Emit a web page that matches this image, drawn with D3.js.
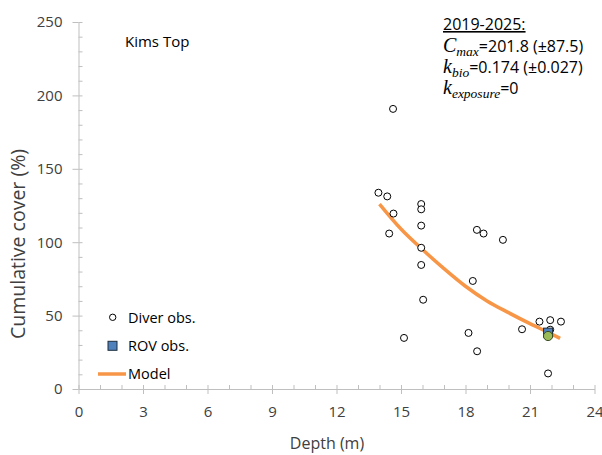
<!DOCTYPE html>
<html>
<head>
<meta charset="utf-8">
<script src="https://cdn.jsdelivr.net/npm/d3@7"></script>
<style>
  body { margin: 0; background: #fff; }
  svg text { font-family: "Open Sans", "Noto Sans", sans-serif; }
</style>
</head>
<body>
<div id="chart"></div>
<script>
// Diver observations (depth m, cumulative cover %)
var diverDepth = [13.95, 14.36, 14.65, 14.45, 14.63, 15.94, 15.94, 15.94, 15.94, 15.94, 16.03, 15.14,
                  18.53, 18.84, 19.74, 18.34, 18.14, 18.54, 20.63, 21.44, 21.94, 22.44, 21.94, 21.84];
var diverCover = [133.7, 131.2, 119.5, 105.9, 190.8, 126.0, 122.4, 111.3, 96.2, 84.5, 60.8, 34.8,
                  108.4, 105.9, 101.6, 73.6, 38.2, 25.7, 40.7, 45.9, 46.9, 45.9, 40.4, 10.6];

// ROV observation
var rovDepth = [21.84];
var rovCover = [38.4];

// extra marker drawn on top of the ROV square
var meanDepth = [21.84];
var meanCover = [36.1];

// model curve
var modelDepth = [14.0, 15.0, 16.0, 17.0, 18.0, 19.0, 20.0, 21.0, 22.0, 22.4];
var modelCover = [126, 109, 95, 82, 70, 60, 52, 44.5, 37.5, 34.5];

var xTicks = [0, 3, 6, 9, 12, 15, 18, 21, 24];
var yTicks = [0, 50, 100, 150, 200, 250];

var width = 602, height = 455;
var plotLeft = 78.5, plotRight = 594.5, plotTop = 22, plotBottom = 389;

var svg = d3.select('#chart').append('svg')
    .attr('width', width)
    .attr('height', height)
    .style('background', 'white');

var x = d3.scaleLinear().domain([0, 24]).range([plotLeft, plotRight]);
var y = d3.scaleLinear().domain([0, 250]).range([plotBottom, plotTop]);

var axisColor = '#bfbfbf';
var labelColor = '#404040';

// minor ticks (inside)
svg.append('g')
    .attr('transform', 'translate(0,' + plotBottom + ')')
    .call(d3.axisBottom(x).tickValues(d3.range(0, 25, 1)).tickSizeInner(-4).tickSizeOuter(0).tickFormat(''))
    .call(function(g) { g.select('.domain').remove(); g.selectAll('line').attr('stroke', axisColor); });
svg.append('g')
    .attr('transform', 'translate(' + plotLeft + ',0)')
    .call(d3.axisLeft(y).tickValues(d3.range(0, 251, 10)).tickSizeInner(-4).tickSizeOuter(0).tickFormat(''))
    .call(function(g) { g.select('.domain').remove(); g.selectAll('line').attr('stroke', axisColor); });

// major axes
var xAxis = svg.append('g')
    .attr('transform', 'translate(0,' + plotBottom + ')')
    .call(d3.axisBottom(x).tickValues(xTicks).tickSizeInner(5).tickSizeOuter(0).tickPadding(12));
var yAxis = svg.append('g')
    .attr('transform', 'translate(' + plotLeft + ',0)')
    .call(d3.axisLeft(y).tickValues(yTicks).tickSizeInner(6).tickSizeOuter(0).tickPadding(10));

[xAxis, yAxis].forEach(function(g) {
    g.select('.domain').attr('stroke', axisColor);
    g.selectAll('line').attr('stroke', axisColor);
    g.selectAll('text')
        .style('font-size', '15px')
        .attr('fill', labelColor);
});

// axis titles
svg.append('text')
    .attr('x', 327)
    .attr('y', 449)
    .attr('text-anchor', 'middle')
    .style('font-size', '16px')
    .attr('fill', labelColor)
    .text('Depth (m)');

svg.append('text')
    .attr('transform', 'translate(25,244) rotate(-90)')
    .attr('text-anchor', 'middle')
    .style('font-size', '19.5px')
    .attr('fill', labelColor)
    .text('Cumulative cover (%)');

// site label
svg.append('text')
    .attr('x', 125)
    .attr('y', 47)
    .style('font-size', '15px')
    .attr('fill', '#000')
    .text('Kims Top');

// model line
var line = d3.line()
    .x(function(d, i) { return x(modelDepth[i]); })
    .y(function(d, i) { return y(modelCover[i]); })
    .curve(d3.curveMonotoneX);

svg.append('path')
    .datum(modelCover)
    .attr('d', line)
    .attr('fill', 'none')
    .attr('stroke', '#f79646')
    .attr('stroke-width', 3.5);

// diver obs
svg.selectAll('circle.diver')
    .data(diverCover)
    .enter()
    .append('circle')
        .attr('class', 'diver')
        .attr('cx', function(d, i) { return x(diverDepth[i]); })
        .attr('cy', function(d) { return y(d); })
        .attr('r', 3.5)
        .attr('fill', 'white')
        .attr('stroke', '#000')
        .attr('stroke-width', 1);

// ROV obs
svg.selectAll('rect.rov')
    .data(rovCover)
    .enter()
    .append('rect')
        .attr('class', 'rov')
        .attr('x', function(d, i) { return x(rovDepth[i]) - 4.5; })
        .attr('y', function(d) { return y(d) - 4.5; })
        .attr('width', 9)
        .attr('height', 9)
        .attr('fill', '#4f81bd')
        .attr('stroke', '#1f2d3d')
        .attr('stroke-width', 1);

svg.selectAll('circle.mean')
    .data(meanCover)
    .enter()
    .append('circle')
        .attr('class', 'mean')
        .attr('cx', function(d, i) { return x(meanDepth[i]); })
        .attr('cy', function(d) { return y(d); })
        .attr('r', 4.6)
        .attr('fill', '#9bbb59')
        .attr('stroke', '#3a4a22')
        .attr('stroke-width', 1);

// legend
var legend = svg.append('g');
legend.append('circle')
    .attr('cx', 112.7).attr('cy', 317.3).attr('r', 3.2)
    .attr('fill', 'white').attr('stroke', '#000');
legend.append('rect')
    .attr('x', 108).attr('y', 341.3).attr('width', 9).attr('height', 9)
    .attr('fill', '#4f81bd').attr('stroke', '#1f2d3d');
legend.append('line')
    .attr('x1', 98).attr('x2', 126).attr('y1', 374).attr('y2', 374)
    .attr('stroke', '#f79646').attr('stroke-width', 3.5);
var legendText = ['Diver obs.', 'ROV obs.', 'Model'];
legend.selectAll('text')
    .data(legendText)
    .enter()
    .append('text')
        .attr('x', 128)
        .attr('y', function(d, i) { return 317.3 + i * 28.3; })
        .attr('dominant-baseline', 'central')
        .style('font-size', '14.5px')
        .attr('fill', '#000')
        .text(function(d) { return d; });

// annotation
var ann = svg.append('g').attr('fill', '#000');
ann.append('text')
    .attr('x', 443).attr('y', 30)
    .style('font-size', '16px')
    .attr('text-decoration', 'underline')
    .text('2019-2025:');

var serif = '"Liberation Serif", "DejaVu Serif", serif';
function paramLine(yPos, sym, sub, rest) {
    var t = ann.append('text').attr('x', 443).attr('y', yPos).style('font-size', '16px');
    t.append('tspan').style('font-family', serif).style('font-style', 'italic').style('font-size', '20px').text(sym);
    t.append('tspan').style('font-family', serif).style('font-style', 'italic').style('font-size', '13.5px')
        .attr('dy', 4).text(sub);
    t.append('tspan').attr('dy', -4).text(rest);
}
paramLine(52, 'C', 'max', '=201.8 (\u00b187.5)');
paramLine(73, 'k', 'bio', '=0.174 (\u00b10.027)');
paramLine(94, 'k', 'exposure', '=0');
</script>
</body>
</html>
